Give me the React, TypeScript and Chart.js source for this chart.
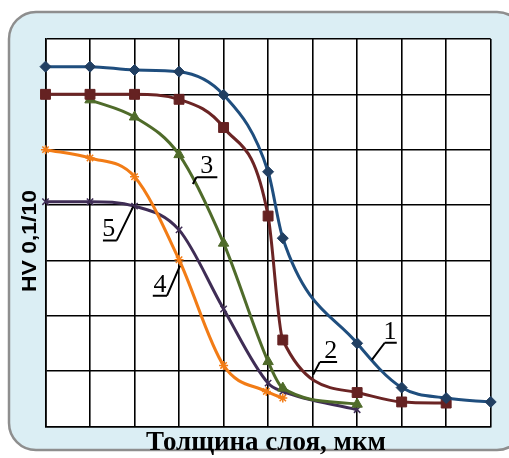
import React, { useEffect, useRef } from "react";
import { Chart, registerables } from "chart.js";

Chart.register(...registerables);

// axis ranges (grid only, no tick labels in the original)
const xMax = 10;
const yMax = 7;

// series 1 (blue, diamonds)
const s1x = [0, 1, 2, 3, 4, 5, 5.33, 7, 8, 9, 10];
const s1y = [6.5, 6.5, 6.44, 6.41, 5.99, 4.6, 3.4, 1.5, 0.7, 0.51, 0.44];
// series 2 (maroon, squares)
const s2x = [0, 1, 2, 3, 4, 5, 5.33, 7, 8, 9];
const s2y = [6.0, 6.0, 6.0, 5.91, 5.4, 3.8, 1.56, 0.61, 0.44, 0.42];
// series 3 (green, triangles)
const s3x = [1, 2, 3, 4, 5, 5.33, 7];
const s3y = [5.9, 5.59, 4.91, 3.31, 1.17, 0.69, 0.4];
// series 4 (orange, stars)
const s4x = [0, 1, 2, 3, 4, 4.96, 5.33];
const s4y = [5.0, 4.85, 4.51, 3.01, 1.1, 0.63, 0.51];
// series 5 (purple, crosses)
const s5x = [0, 1, 2, 3, 4, 5, 5.33, 7];
const s5y = [4.06, 4.06, 3.98, 3.55, 2.12, 0.78, 0.63, 0.3];

// curve number labels (data units): text, text centre x, underline x0,x1,y, leader end x,y
const labelTexts = ["1", "2", "3", "4", "5"];
const labelTextX = [7.74, 6.41, 3.62, 2.57, 1.42];
const labelUx0 = [7.62, 6.16, 3.39, 2.41, 1.29];
const labelUx1 = [7.89, 6.55, 3.86, 2.73, 1.6];
const labelUy = [1.51, 1.16, 4.5, 2.36, 3.36];
const labelEx = [7.33, 6.01, 3.31, 3.02, 1.97];
const labelEy = [1.2, 0.93, 4.38, 2.9, 3.97];

const xTitle = "Толщина слоя, мкм";
const yTitle = "HV 0,1/10";

const pts = (xs: number[], ys: number[]) => xs.map((x, i) => ({ x, y: ys[i] }));

const bgPlugin = {
  id: "bg",
  beforeDraw(chart: any) {
    const { ctx, chartArea } = chart;
    ctx.save();
    ctx.beginPath();
    (ctx as any).roundRect(9, 12, 515, 438, 27);
    ctx.fillStyle = "#DBEEF4";
    ctx.fill();
    ctx.lineWidth = 2.5;
    ctx.strokeStyle = "#8E8E8E";
    ctx.stroke();
    ctx.fillStyle = "#FFFFFF";
    ctx.fillRect(chartArea.left, chartArea.top, chartArea.right - chartArea.left, chartArea.bottom - chartArea.top);
    ctx.restore();
  },
};

const annotPlugin = {
  id: "annot",
  afterDatasetsDraw(chart: any) {
    const { ctx, scales } = chart;
    const xs = scales.x;
    const ys = scales.y;
    ctx.save();
    // curve labels
    ctx.font = "26px 'Liberation Serif', serif";
    ctx.fillStyle = "#000";
    ctx.strokeStyle = "#000";
    ctx.lineWidth = 2;
    ctx.textAlign = "center";
    ctx.textBaseline = "alphabetic";
    labelTexts.forEach((t, i) => {
      const ux0 = xs.getPixelForValue(labelUx0[i]);
      const ux1 = xs.getPixelForValue(labelUx1[i]);
      const uy = ys.getPixelForValue(labelUy[i]);
      const ex = xs.getPixelForValue(labelEx[i]);
      const ey = ys.getPixelForValue(labelEy[i]);
      const sx = Math.abs(ex - ux0) < Math.abs(ex - ux1) ? ux0 : ux1;
      ctx.beginPath();
      ctx.moveTo(ux0, uy);
      ctx.lineTo(ux1, uy);
      ctx.moveTo(sx, uy);
      ctx.lineTo(ex, ey);
      ctx.stroke();
      ctx.fillText(t, xs.getPixelForValue(labelTextX[i]), uy - 4);
    });
    // x title
    ctx.font = "bold 27px 'Liberation Serif', serif";
    ctx.textAlign = "center";
    ctx.textBaseline = "alphabetic";
    ctx.fillText(xTitle, 266, 450);
    // y title (rotated)
    ctx.font = "bold 21px 'Liberation Sans', Arial, sans-serif";
    const w = ctx.measureText(yTitle).width;
    ctx.translate(30, 241);
    ctx.rotate(-Math.PI / 2);
    ctx.scale(102 / w, 1);
    ctx.textBaseline = "middle";
    ctx.fillText(yTitle, 0, 0);
    ctx.restore();
  },
};

export default function App() {
  const ref = useRef<HTMLCanvasElement>(null);
  useEffect(() => {
    const common = {
      borderWidth: 3,
      fill: false,
      cubicInterpolationMode: "monotone" as const,
      clip: false as any,
    };
    const chart = new Chart(ref.current as HTMLCanvasElement, {
      type: "line",
      data: {
        datasets: [
          {
            ...common,
            label: "1",
            data: pts(s1x, s1y),
            borderColor: "#1F4E7E",
            backgroundColor: "#213F62",
            pointStyle: "rectRot",
            pointRadius: 5.5,
            pointBorderWidth: 1,
            pointBorderColor: "#213F62",
          },
          {
            ...common,
            label: "2",
            data: pts(s2x, s2y),
            borderColor: "#6B2424",
            backgroundColor: "#652222",
            pointStyle: "rect",
            pointRadius: 7,
            pointBorderWidth: 1,
            pointBorderColor: "#652222",
          },
          {
            ...common,
            label: "3",
            data: pts(s3x, s3y),
            borderColor: "#4F6B2A",
            backgroundColor: "#4F6B2A",
            pointStyle: "triangle",
            pointRadius: 6,
            pointBorderWidth: 1,
            pointBorderColor: "#4F6B2A",
          },
          {
            ...common,
            label: "4",
            data: pts(s4x, s4y),
            borderColor: "#F27C16",
            backgroundColor: "#F27C16",
            pointStyle: "star",
            pointRadius: 4.5,
            pointBorderWidth: 1.5,
            pointBorderColor: "#F27C16",
          },
          {
            ...common,
            label: "5",
            data: pts(s5x, s5y),
            borderColor: "#3F2D55",
            backgroundColor: "#3F2D55",
            pointStyle: "crossRot",
            pointRadius: 4.5,
            pointBorderWidth: 1.5,
            pointBorderColor: "#3F2D55",
          },
        ],
      },
      options: {
        responsive: false,
        animation: false,
        devicePixelRatio: 1,
        layout: { padding: { left: 45.5, right: 18.3, top: 39, bottom: 31.7 } },
        plugins: { legend: { display: false }, tooltip: { enabled: false } },
        scales: {
          x: {
            type: "linear",
            min: 0,
            max: xMax,
            ticks: { display: false, stepSize: 1 },
            grid: { color: "#000", lineWidth: 1.6, drawTicks: false },
            border: { color: "#000", width: 1.6 },
          },
          y: {
            type: "linear",
            min: 0,
            max: yMax,
            ticks: { display: false, stepSize: 1 },
            grid: { color: "#000", lineWidth: 1.6, drawTicks: false },
            border: { color: "#000", width: 1.6 },
          },
        },
      },
      plugins: [bgPlugin, annotPlugin],
    });
    return () => chart.destroy();
  }, []);
  return (
    <div style={{ position: "fixed", left: 0, top: 0, width: 509, height: 458 }}>
      <canvas ref={ref} width={509} height={458} style={{ display: "block" }} />
    </div>
  );
}
